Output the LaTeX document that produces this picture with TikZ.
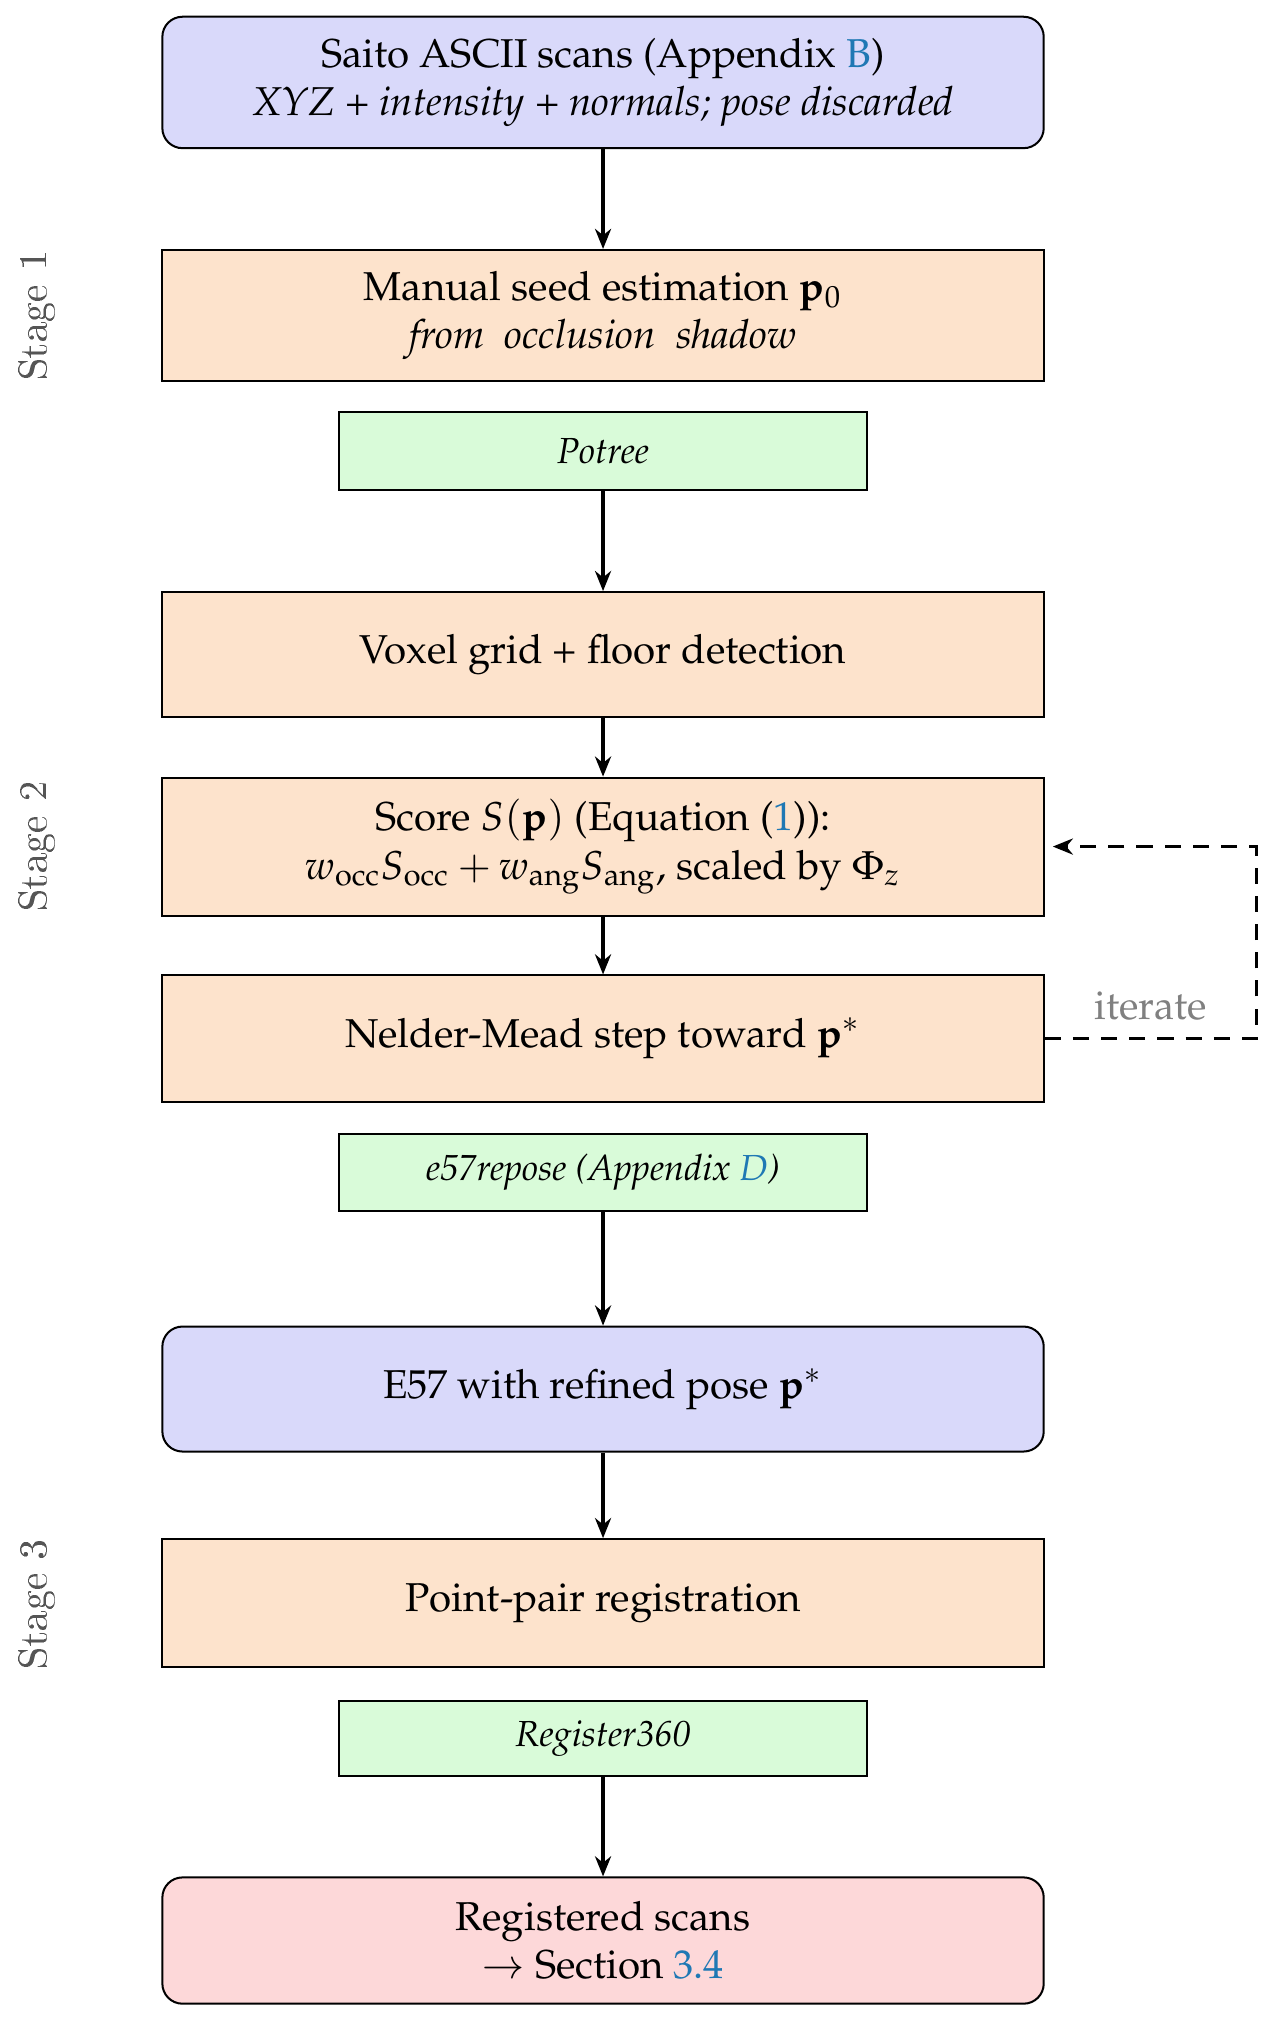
\documentclass[tikz,border=0pt]{standalone}
\usepackage[T1]{fontenc}
\usepackage{mathpazo}
\usetikzlibrary{arrows.meta}
\definecolor{bluef}{HTML}{D9D9FA}
\definecolor{orf}{HTML}{FDE3CC}
\definecolor{grf}{HTML}{D9FBD9}
\definecolor{redf}{HTML}{FDD8D9}
\definecolor{lnk}{HTML}{1F78B4}
\definecolor{stg}{HTML}{555555}
\newcommand{\lk}[1]{\textcolor{lnk}{#1}}
\begin{document}
\begin{tikzpicture}[x=0.32pt,y=-0.32pt,
  box/.style={draw,line width=0.5pt,minimum width=684*0.32pt,align=center,inner sep=0pt},
  big/.style={box,fill=orf},
  io/.style={box,rounded corners=5pt},
  tool/.style={draw,line width=0.5pt,fill=grf,minimum width=410*0.32pt,minimum height=60*0.32pt,font=\small\itshape,inner sep=0pt},
  arr/.style={-{Stealth[length=5pt,width=4pt]},line width=0.8pt},
  stage/.style={rotate=90,font=\sffamily\bfseries,text=stg}]
\useasboundingbox (0,0) rectangle (990,1570);
\node[io,fill=bluef,minimum height=102*0.32pt] (a) at (468,64) {Saito ASCII scans (Appendix \lk{B})\\ \textit{XYZ + intensity + normals; pose discarded}};
\node[big,minimum height=102*0.32pt] (b) at (468,245) {Manual seed estimation $\mathbf{p}_0$\\ \textit{from\ \ occlusion\ \ shadow}};
\node[tool] (t1) at (468,350) {Potree};
\node[big,minimum height=97*0.32pt] (c) at (468,508) {Voxel grid + floor detection};
\node[big,minimum height=107*0.32pt] (d) at (468,657) {Score $S(\mathbf{p})$ (Equation (\lk{1})):\\ $w_{\mathrm{occ}}S_{\mathrm{occ}}+w_{\mathrm{ang}}S_{\mathrm{ang}}$, scaled by $\Phi_z$};
\node[big,minimum height=98*0.32pt] (e) at (468,806) {Nelder-Mead step toward $\mathbf{p}^*$};
\node[tool] (t2) at (468,910) {e57repose (Appendix \lk{D})};
\node[io,fill=bluef,minimum height=97*0.32pt] (f) at (468,1078) {E57 with refined pose $\mathbf{p}^*$};
\node[big,minimum height=99*0.32pt] (g) at (468,1244) {Point-pair registration};
\node[tool,minimum height=58*0.32pt] (t3) at (468,1349) {Register360};
\node[io,fill=redf,minimum height=98*0.32pt] (h) at (468,1506) {Registered scans\\ $\rightarrow$ Section \lk{3.4}};
\draw[arr] (a) -- (b);
\draw[arr] (t1) -- (c);
\draw[arr] (c) -- (d);
\draw[arr] (d) -- (e);
\draw[arr] (t2) -- (f);
\draw[arr] (f) -- (g);
\draw[arr] (t3) -- (h);
\coordinate (r1) at (975,806);
\coordinate (r2) at (975,657);
\draw[arr,dashed,dash pattern=on 4pt off 3pt] (e.east) -- (r1) -- (r2) -- ([xshift=2pt]d.east);
\node[text=gray] (it) at (893,781) {iterate};
\node[stage] (s1) at (28,245) {Stage 1};
\node[stage] (s2) at (28,657) {Stage 2};
\node[stage] (s3) at (28,1245) {Stage 3};
\end{tikzpicture}
\end{document}
